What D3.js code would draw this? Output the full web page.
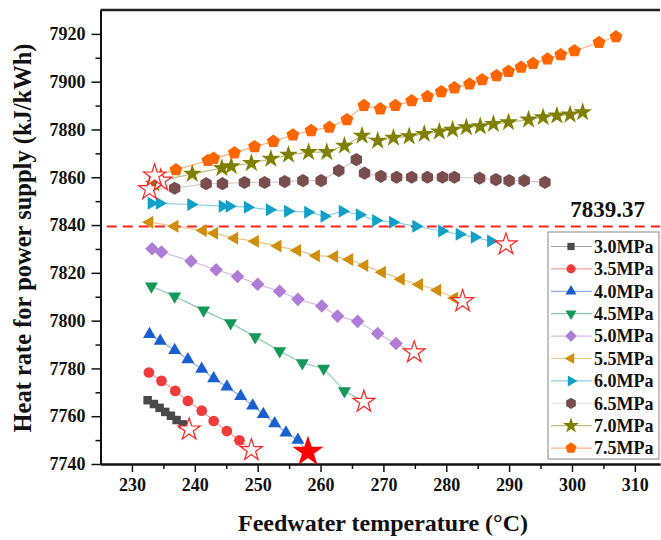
<!DOCTYPE html>
<html>
<head>
<meta charset="utf-8">
<script src="https://cdn.jsdelivr.net/npm/d3@7"></script>
<style>
body { margin: 0; background: #fff; }
text { font-family: "Liberation Serif", "Times New Roman", serif; font-weight: bold; fill: #111; }
</style>
</head>
<body>
<svg id="chart"></svg>
<script>
// series names and colours
var names = ["3.0MPa", "3.5MPa", "4.0MPa", "4.5MPa", "5.0MPa", "5.5MPa", "6.0MPa", "6.5MPa", "7.0MPa", "7.5MPa"];
var colors = ["#4a4a4a", "#ef3b3b", "#1a5fd0", "#129858", "#b07cd8", "#d18e0b", "#10a0c8", "#7b4e4e", "#808000", "#ff6600"];

// feedwater temperature (C) / heat rate (kJ/kWh) per pressure
var p30T = [232.5, 233.5, 234.4, 235.3, 236.2, 237.1, 238.1];
var p30H = [7766.7, 7765.1, 7763.5, 7761.8, 7760.2, 7758.4, 7756.6];
var p35T = [232.7, 234.7, 236.9, 238.9, 241.1, 243.0, 245.1, 247.1];
var p35H = [7778.3, 7774.8, 7770.6, 7766.4, 7762.3, 7758.0, 7753.8, 7749.9];
var p40T = [232.8, 234.5, 236.8, 238.9, 241.1, 243.0, 245.1, 247.3, 249.2, 250.9, 252.7, 254.5, 256.4];
var p40H = [7794.3, 7791.5, 7787.6, 7783.7, 7779.8, 7775.8, 7772.3, 7768.4, 7764.4, 7760.8, 7757.0, 7753.1, 7750.0];
var p45T = [233.1, 236.8, 241.4, 245.7, 249.6, 253.5, 257.1, 260.5, 263.8];
var p45H = [7814.4, 7810.2, 7804.3, 7799.0, 7793.2, 7787.3, 7782.3, 7780.0, 7770.6];
var p50T = [233.2, 234.7, 239.4, 243.4, 246.8, 250.0, 253.5, 256.4, 260.2, 262.7, 265.9, 269.1, 272.0];
var p50H = [7830.1, 7828.7, 7824.9, 7821.3, 7818.5, 7815.2, 7812.3, 7808.9, 7806.1, 7801.9, 7799.7, 7794.6, 7790.4];
var p55T = [232.8, 236.8, 241.3, 243.1, 246.3, 249.6, 253.2, 256.3, 259.3, 262.2, 264.6, 267.0, 269.8, 272.8, 275.7, 278.6, 281.3];
var p55H = [7841.2, 7839.5, 7837.7, 7836.6, 7834.5, 7833.2, 7831.2, 7829.4, 7827.2, 7826.8, 7825.6, 7823.1, 7820.3, 7817.3, 7815.1, 7812.7, 7809.5];
var p60T = [233.1, 234.4, 239.4, 244.4, 245.5, 248.4, 251.9, 254.8, 258.0, 260.6, 263.5, 266.2, 268.8, 271.5, 275.2, 279.3, 282.1, 284.5, 287.1];
var p60H = [7849.1, 7849.1, 7848.6, 7847.9, 7847.9, 7847.5, 7846.4, 7845.8, 7845.4, 7843.7, 7845.8, 7844.3, 7841.9, 7841.2, 7839.5, 7837.5, 7836.1, 7834.9, 7833.3];
var p65T = [236.8, 241.8, 244.4, 247.9, 251.1, 254.3, 257.2, 260.1, 262.9, 265.7, 267.0, 269.6, 272.1, 274.5, 277.0, 279.4, 281.3, 285.3, 287.9, 290.0, 292.4, 295.7];
var p65H = [7855.4, 7857.3, 7857.3, 7857.8, 7857.8, 7858.2, 7858.6, 7858.6, 7862.8, 7867.4, 7861.7, 7860.4, 7860.0, 7860.0, 7860.0, 7860.0, 7860.0, 7859.6, 7859.0, 7858.6, 7858.6, 7857.9];
var p70T = [233.5, 239.6, 244.3, 245.8, 249.0, 252.1, 254.9, 258.1, 261.0, 263.8, 266.6, 269.1, 271.6, 274.1, 276.5, 278.9, 281.0, 283.2, 285.4, 287.5, 289.9, 293.1, 295.4, 297.6, 299.7, 301.7];
var p70H = [7857.3, 7861.4, 7863.8, 7864.6, 7865.9, 7867.7, 7869.4, 7870.5, 7870.5, 7873.2, 7877.4, 7875.3, 7876.5, 7877.1, 7878.1, 7879.1, 7879.9, 7880.9, 7881.3, 7882.3, 7883.0, 7884.1, 7885.1, 7885.8, 7886.2, 7887.2];
var p75T = [237.0, 242.1, 243.0, 246.3, 249.5, 252.5, 255.6, 258.5, 261.4, 264.2, 266.9, 269.5, 271.9, 274.5, 277.0, 279.2, 281.3, 283.7, 285.7, 288.0, 289.9, 291.9, 293.8, 296.1, 298.2, 300.4, 304.3, 307.0];
var p75H = [7863.1, 7867.0, 7867.9, 7870.2, 7872.8, 7875.0, 7877.7, 7879.5, 7880.9, 7884.1, 7890.0, 7888.6, 7890.0, 7892.0, 7893.8, 7895.8, 7897.4, 7899.0, 7900.8, 7902.5, 7904.3, 7906.0, 7907.6, 7909.5, 7911.3, 7912.9, 7916.4, 7918.8];

// optimum point of each pressure (star markers), the global one is filled
var optT = [239.1, 249.0, 258.0, 266.9, 274.9, 282.6, 289.5, 232.8, 234.6, 233.6];
var optH = [7754.4, 7745.8, 7745.1, 7766.0, 7786.7, 7808.1, 7831.9, 7855.0, 7858.6, 7860.7];
var bestIdx = 2;

var refValue = 7839.37;
var xTicks = [230, 240, 250, 260, 270, 280, 290, 300, 310];
var yTicks = [7740, 7760, 7780, 7800, 7820, 7840, 7860, 7880, 7900, 7920];

var allT = [p30T, p35T, p40T, p45T, p50T, p55T, p60T, p65T, p70T, p75T];
var allH = [p30H, p35H, p40H, p45H, p50H, p55H, p60H, p65H, p70H, p75H];

var W = 661, H = 540;
var margin = {top: 10, right: 1, bottom: 76, left: 100.5};
var w = W - margin.left - margin.right,
	h = H - margin.top - margin.bottom;

var svg = d3.select("#chart").attr("width", W).attr("height", H);
var g = svg.append("g").attr("transform", "translate(" + margin.left + "," + margin.top + ")");

var x = d3.scaleLinear().domain([225, 314]).range([0, w]);
var y = d3.scaleLinear().domain([7740, 7930]).range([h, 0]);

// marker shapes
function poly(n, r, rot) {
	var pts = d3.range(n).map(function(i) {
		var a = rot + i * 2 * Math.PI / n;
		return [r * Math.sin(a), -r * Math.cos(a)];
	});
	return "M" + pts.map(function(p) { return p[0].toFixed(2) + "," + p[1].toFixed(2); }).join("L") + "Z";
}
function shape(i, k) {
	k = k || 1;
	switch (i) {
		case 0: return d3.symbol(d3.symbolSquare, 72 * k * k)();
		case 1: return d3.symbol(d3.symbolCircle, 90 * k * k)();
		case 2: return poly(3, 7.5 * k, 0);
		case 3: return poly(3, 7.5 * k, Math.PI);
		case 4: return poly(4, 6.8 * k, 0);
		case 5: return poly(3, 7.5 * k, -Math.PI / 2);
		case 6: return poly(3, 7.5 * k, Math.PI / 2);
		case 7: return poly(6, 6.6 * k, 0);
		case 8: return d3.symbol(d3.symbolStar, 110 * k * k)();
		case 9: return poly(5, 6.8 * k, 0);
	}
}

// axes
g.append("g").attr("transform", "translate(0," + h + ")")
	.call(d3.axisBottom(x).tickValues(xTicks).tickSize(8).tickPadding(6).tickSizeOuter(0));
g.append("g").attr("transform", "translate(0," + h + ")")
	.call(d3.axisBottom(x).tickValues(d3.range(235, 314, 10)).tickSize(5).tickFormat("").tickSizeOuter(0));
g.append("g")
	.call(d3.axisLeft(y).tickValues(yTicks).tickFormat(d3.format("d")).tickSize(9).tickPadding(6).tickSizeOuter(0));
g.append("g")
	.call(d3.axisLeft(y).tickValues(d3.range(7750, 7930, 20)).tickSize(5).tickFormat("").tickSizeOuter(0));
g.selectAll(".domain").attr("stroke", "#111").attr("stroke-width", 2);
g.selectAll(".tick line").attr("stroke", "#111").attr("stroke-width", 1.5);
g.selectAll(".tick text").style("font-size", "18px").attr("fill", "#111");

// top frame
g.append("line").attr("x1", 0).attr("x2", w).attr("y1", 0).attr("y2", 0)
	.attr("stroke", "#222").attr("stroke-width", 2.5);

// reference line
g.append("line")
	.attr("x1", x(226)).attr("x2", w)
	.attr("y1", y(refValue)).attr("y2", y(refValue))
	.attr("stroke", "#f22").attr("stroke-width", 2).attr("stroke-dasharray", "10,6");
g.append("text").attr("x", w - 15).attr("y", y(refValue) - 10)
	.attr("text-anchor", "end").style("font-size", "23px").text(refValue.toFixed(2));

// series
var line = d3.line().x(function(d) { return x(d[0]); }).y(function(d) { return y(d[1]); });
allT.forEach(function(ts, i) {
	var pts = ts.map(function(t, j) { return [t, allH[i][j]]; });
	var withOpt = pts.concat([[optT[i], optH[i]]]).sort(function(a, b) { return a[0] - b[0]; });
	g.append("path").datum(withOpt).attr("d", line)
		.attr("fill", "none").attr("stroke", colors[i]).attr("stroke-opacity", i == 7 ? 0.3 : 0.5).attr("stroke-width", 1.2);
	g.selectAll(".m" + i).data(pts).enter().append("path")
		.attr("d", shape(i))
		.attr("transform", function(d) { return "translate(" + x(d[0]) + "," + y(d[1]) + ")"; })
		.attr("fill", colors[i]);
});

// optimum stars
optT.forEach(function(t, i) {
	var best = i == bestIdx;
	g.append("path")
		.attr("d", d3.symbol(d3.symbolStar, best ? 300 : 150)())
		.attr("transform", "translate(" + x(t) + "," + y(optH[i]) + ")")
		.attr("fill", best ? "#f00" : "#fff")
		.attr("stroke", "#f22").attr("stroke-width", best ? 0 : 1.2);
});

// legend
var lg = svg.append("g").attr("transform", "translate(548,232)");
lg.append("rect").attr("width", 111).attr("height", 227)
	.attr("fill", "#fff").attr("stroke", "#9a9a9a").attr("stroke-width", 1.2);
names.forEach(function(n, i) {
	var row = lg.append("g").attr("transform", "translate(0," + (14.5 + i * 22.4) + ")");
	row.append("line").attr("x1", 3).attr("x2", 44).attr("stroke", colors[i])
		.attr("stroke-opacity", i == 7 ? 0.15 : 0.5).attr("stroke-width", 1.2);
	row.append("path").attr("d", shape(i, 0.85)).attr("transform", "translate(23,0)").attr("fill", colors[i]);
	row.append("text").attr("x", 46).attr("dy", "0.35em").style("font-size", "18px").text(n);
});

// axis titles
svg.append("text")
	.attr("transform", "translate(31," + (margin.top + 228) + ") rotate(-90)")
	.attr("text-anchor", "middle").style("font-size", "24.5px")
	.text("Heat rate for power supply (kJ/kWh)");
svg.append("text")
	.attr("x", 383).attr("y", 531)
	.attr("text-anchor", "middle").style("font-size", "24px")
	.text("Feedwater temperature (°C)");
</script>
</body>
</html>
